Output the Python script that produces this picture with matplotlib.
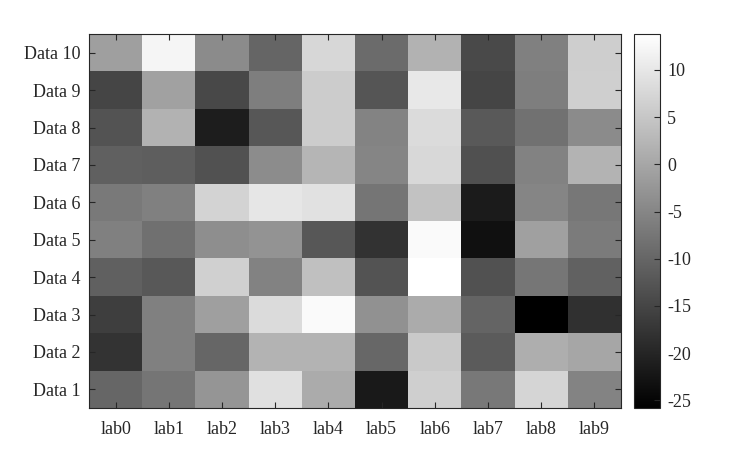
import matplotlib
matplotlib.use("Agg")
import matplotlib.pyplot as plt
import numpy as np

plt.rcParams['font.family'] = ['Liberation Serif', 'DejaVu Serif']
plt.rcParams['font.size'] = 13
plt.rcParams['axes.unicode_minus'] = False

# Column and row labels
cols = ['lab0', 'lab1', 'lab2', 'lab3', 'lab4', 'lab5', 'lab6', 'lab7', 'lab8', 'lab9']
rows = ['Data 1', 'Data 2', 'Data 3', 'Data 4', 'Data 5',
        'Data 6', 'Data 7', 'Data 8', 'Data 9', 'Data 10']

# values per row (Data 1 .. Data 10)
data1 = [-10.0, -7.6, -2.7, 9.0, 0.8, -21.8, 6.3, -7.2, 7.3, -5.5]
data2 = [-17.9, -5.9, -10.0, 2.0, 2.0, -9.8, 5.3, -11.7, 1.2, 0.0]
data3 = [-16.2, -5.9, -1.1, 8.1, 12.9, -3.3, 0.8, -10.3, -25.8, -18.3]
data4 = [-10.9, -12.1, 6.5, -5.6, 4.0, -12.9, 13.8, -13.2, -7.5, -10.6]
data5 = [-5.9, -8.4, -3.7, -2.8, -12.3, -18.0, 12.9, -23.2, -1.0, -6.7]
data6 = [-6.8, -5.9, 7.1, 9.9, 9.1, -7.6, 4.3, -21.5, -5.1, -7.3]
data7 = [-10.9, -11.2, -13.2, -4.1, 2.3, -5.1, 7.7, -13.4, -5.6, 2.0]
data8 = [-12.9, 1.8, -21.3, -12.3, 5.9, -5.3, 8.1, -12.0, -8.3, -4.2]
data9 = [-15.1, -0.8, -14.6, -6.2, 5.9, -12.6, 10.2, -15.1, -6.2, 6.3]
data10 = [-1.1, 12.1, -4.2, -10.1, 7.6, -9.2, 1.8, -14.3, -5.9, 6.2]

values = np.array([data1, data2, data3, data4, data5,
                   data6, data7, data8, data9, data10])

fig = plt.figure(figsize=(7.53, 4.59), dpi=100)
ax = fig.add_axes([89/753, 51/459, 532/753, 374/459])
cax = fig.add_axes([634/753, 51/459, 26/753, 374/459])

im = ax.imshow(values, cmap='gray', origin='lower', aspect='auto',
               interpolation='nearest')

ax.set_xticks(range(len(cols)))
ax.set_xticklabels(cols)
ax.set_yticks(range(len(rows)))
ax.set_yticklabels(rows)
ax.tick_params(direction='in', top=True, right=True, length=4,
               color='#262626', labelcolor='#262626', pad=6)
ax.tick_params(axis='x', pad=9)
for s in ax.spines.values():
    s.set_color('#262626')

cb = fig.colorbar(im, cax=cax)
cb.set_ticks([10, 5, 0, -5, -10, -15, -20, -25])
cb.ax.tick_params(direction='in', length=4, color='#262626',
                  labelcolor='#262626', pad=5)
cb.outline.set_edgecolor('#262626')

fig.savefig('out.png', dpi=100)
